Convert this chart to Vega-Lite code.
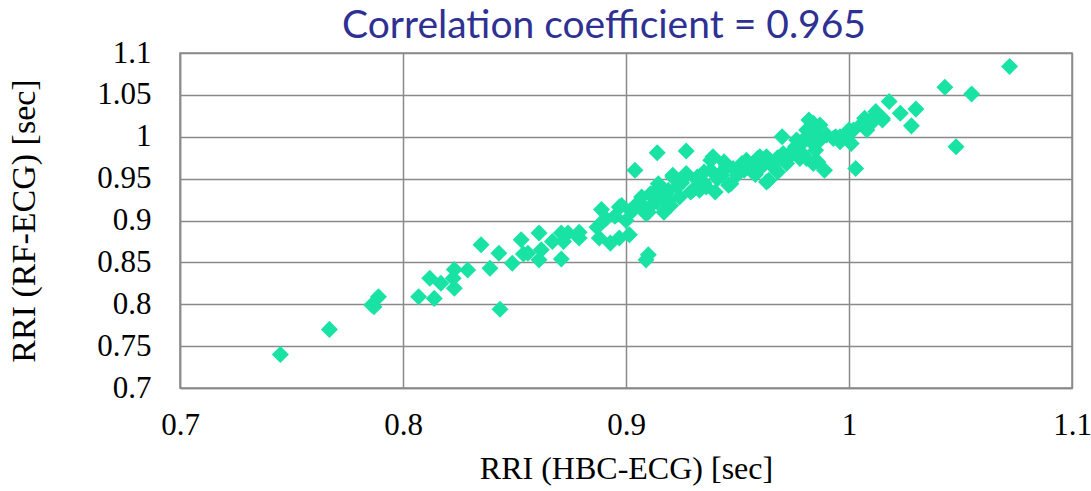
{
  "$schema": "https://vega.github.io/schema/vega-lite/v6.json",
  "width": 892,
  "height": 335,
  "autosize": {"type": "none"},
  "padding": {"left": 180, "top": 53, "right": 19, "bottom": 103},
  "background": "white",
  "title": {
    "text": "Correlation coefficient = 0.965",
    "font": "Lato",
    "fontSize": 39,
    "fontWeight": "normal",
    "color": "#2E3192",
    "anchor": "middle",
    "dx": -22,
    "dy": 13,
    "offset": 4
  },
  "config": {
    "view": {"stroke": "#8a8a8a", "strokeWidth": 1.5}
  },
  "data": {
    "values": [
      {"hbc": 0.745, "rf": 0.740}, {"hbc": 0.767, "rf": 0.770}, {"hbc": 0.787, "rf": 0.797},
      {"hbc": 0.789, "rf": 0.809}, {"hbc": 0.786, "rf": 0.799}, {"hbc": 0.807, "rf": 0.809},
      {"hbc": 0.812, "rf": 0.831}, {"hbc": 0.814, "rf": 0.807}, {"hbc": 0.817, "rf": 0.825},
      {"hbc": 0.8225, "rf": 0.831}, {"hbc": 0.823, "rf": 0.8415}, {"hbc": 0.823, "rf": 0.819},
      {"hbc": 0.829, "rf": 0.841}, {"hbc": 0.835, "rf": 0.871}, {"hbc": 0.839, "rf": 0.843},
      {"hbc": 0.843, "rf": 0.861}, {"hbc": 0.8435, "rf": 0.794}, {"hbc": 0.849, "rf": 0.849},
      {"hbc": 0.853, "rf": 0.877}, {"hbc": 0.854, "rf": 0.860}, {"hbc": 0.856, "rf": 0.861},
      {"hbc": 0.861, "rf": 0.885}, {"hbc": 0.862, "rf": 0.865}, {"hbc": 0.861, "rf": 0.853},
      {"hbc": 0.867, "rf": 0.875}, {"hbc": 0.871, "rf": 0.854}, {"hbc": 0.871, "rf": 0.885},
      {"hbc": 0.874, "rf": 0.885}, {"hbc": 0.872, "rf": 0.875}, {"hbc": 0.879, "rf": 0.886},
      {"hbc": 0.879, "rf": 0.879}, {"hbc": 0.889, "rf": 0.913}, {"hbc": 0.887, "rf": 0.892},
      {"hbc": 0.891, "rf": 0.902}, {"hbc": 0.888, "rf": 0.879}, {"hbc": 0.893, "rf": 0.873},
      {"hbc": 0.897, "rf": 0.879}, {"hbc": 0.9015, "rf": 0.883}, {"hbc": 0.904, "rf": 0.960},
      {"hbc": 0.898, "rf": 0.918}, {"hbc": 0.902, "rf": 0.912}, {"hbc": 0.900, "rf": 0.900},
      {"hbc": 0.907, "rf": 0.928}, {"hbc": 0.910, "rf": 0.859}, {"hbc": 0.909, "rf": 0.853},
      {"hbc": 0.914, "rf": 0.981}, {"hbc": 0.927, "rf": 0.983}, {"hbc": 0.9145, "rf": 0.944},
      {"hbc": 0.911, "rf": 0.932}, {"hbc": 0.914, "rf": 0.922}, {"hbc": 0.910, "rf": 0.910},
      {"hbc": 0.917, "rf": 0.910}, {"hbc": 0.919, "rf": 0.936}, {"hbc": 0.921, "rf": 0.954},
      {"hbc": 0.923, "rf": 0.940}, {"hbc": 0.927, "rf": 0.956}, {"hbc": 0.924, "rf": 0.928},
      {"hbc": 0.929, "rf": 0.934}, {"hbc": 0.932, "rf": 0.952}, {"hbc": 0.933, "rf": 0.936},
      {"hbc": 0.940, "rf": 0.934}, {"hbc": 0.938, "rf": 0.972}, {"hbc": 0.944, "rf": 0.970},
      {"hbc": 0.943, "rf": 0.958}, {"hbc": 0.917, "rf": 0.924}, {"hbc": 0.920, "rf": 0.918},
      {"hbc": 0.908, "rf": 0.916}, {"hbc": 0.939, "rf": 0.976}, {"hbc": 0.938, "rf": 0.960},
      {"hbc": 0.943, "rf": 0.954}, {"hbc": 0.948, "rf": 0.962}, {"hbc": 0.947, "rf": 0.944},
      {"hbc": 0.954, "rf": 0.972}, {"hbc": 0.953, "rf": 0.960}, {"hbc": 0.959, "rf": 0.974},
      {"hbc": 0.960, "rf": 0.962}, {"hbc": 0.964, "rf": 0.948}, {"hbc": 0.965, "rf": 0.970},
      {"hbc": 0.970, "rf": 1.000}, {"hbc": 0.9705, "rf": 0.980}, {"hbc": 0.972, "rf": 0.968},
      {"hbc": 0.976, "rf": 0.988}, {"hbc": 0.978, "rf": 0.974}, {"hbc": 0.982, "rf": 1.020},
      {"hbc": 0.984, "rf": 1.008}, {"hbc": 0.9795, "rf": 0.996}, {"hbc": 0.985, "rf": 0.984},
      {"hbc": 0.981, "rf": 0.974}, {"hbc": 0.989, "rf": 0.960}, {"hbc": 0.986, "rf": 0.970},
      {"hbc": 0.994, "rf": 1.000}, {"hbc": 0.999, "rf": 1.004}, {"hbc": 0.996, "rf": 0.994},
      {"hbc": 1.000, "rf": 1.008}, {"hbc": 1.001, "rf": 0.992}, {"hbc": 1.003, "rf": 0.962},
      {"hbc": 1.007, "rf": 1.022}, {"hbc": 1.008, "rf": 1.008}, {"hbc": 1.012, "rf": 1.030},
      {"hbc": 1.010, "rf": 1.016}, {"hbc": 1.015, "rf": 1.020}, {"hbc": 1.018, "rf": 1.042},
      {"hbc": 1.023, "rf": 1.028}, {"hbc": 1.028, "rf": 1.013}, {"hbc": 1.030, "rf": 1.033},
      {"hbc": 1.043, "rf": 1.059}, {"hbc": 1.055, "rf": 1.051}, {"hbc": 1.048, "rf": 0.988},
      {"hbc": 1.072, "rf": 1.084}, {"hbc": 0.946, "rf": 0.942}, {"hbc": 0.963, "rf": 0.946},
      {"hbc": 0.960, "rf": 0.976}, {"hbc": 0.956, "rf": 0.960}, {"hbc": 0.966, "rf": 0.964},
      {"hbc": 0.971, "rf": 0.974}, {"hbc": 0.975, "rf": 0.984}, {"hbc": 0.985, "rf": 1.004},
      {"hbc": 0.987, "rf": 1.014}, {"hbc": 0.993, "rf": 0.998}, {"hbc": 1.012, "rf": 1.026},
      {"hbc": 0.915, "rf": 0.940}, {"hbc": 0.921, "rf": 0.952}, {"hbc": 0.927, "rf": 0.954},
      {"hbc": 0.932, "rf": 0.948}, {"hbc": 0.918, "rf": 0.932}, {"hbc": 0.930, "rf": 0.936},
      {"hbc": 0.936, "rf": 0.940}, {"hbc": 0.903, "rf": 0.912}, {"hbc": 0.909, "rf": 0.908},
      {"hbc": 0.897, "rf": 0.916}, {"hbc": 0.890, "rf": 0.900}, {"hbc": 0.912, "rf": 0.920},
      {"hbc": 0.919, "rf": 0.924}, {"hbc": 0.963, "rf": 0.976}, {"hbc": 0.9765, "rf": 0.996},
      {"hbc": 0.981, "rf": 1.008}, {"hbc": 0.984, "rf": 1.016}, {"hbc": 0.987, "rf": 0.996},
      {"hbc": 0.984, "rf": 0.968}, {"hbc": 0.996, "rf": 1.000}, {"hbc": 1.002, "rf": 1.008},
      {"hbc": 1.006, "rf": 1.016}, {"hbc": 1.015, "rf": 1.022}, {"hbc": 0.935, "rf": 0.945},
      {"hbc": 0.941, "rf": 0.950}, {"hbc": 0.950, "rf": 0.955}, {"hbc": 0.957, "rf": 0.966},
      {"hbc": 0.962, "rf": 0.968}, {"hbc": 0.968, "rf": 0.958}, {"hbc": 0.974, "rf": 0.978},
      {"hbc": 0.978, "rf": 0.990}, {"hbc": 0.979, "rf": 0.980}, {"hbc": 0.968, "rf": 0.975},
      {"hbc": 0.925, "rf": 0.945}, {"hbc": 0.916, "rf": 0.930}, {"hbc": 0.905, "rf": 0.920},
      {"hbc": 0.895, "rf": 0.905}, {"hbc": 0.913, "rf": 0.926}, {"hbc": 0.935, "rf": 0.958},
      {"hbc": 0.945, "rf": 0.965}, {"hbc": 0.952, "rf": 0.968}, {"hbc": 0.958, "rf": 0.955},
      {"hbc": 0.990, "rf": 1.002}, {"hbc": 0.983, "rf": 0.994}
    ]
  },
  "mark": {"type": "point", "shape": "diamond", "filled": true, "size": 290, "color": "#19E3A4", "opacity": 1},
  "encoding": {
    "x": {
      "field": "hbc", "type": "quantitative",
      "scale": {"domain": [0.7, 1.1], "nice": false, "zero": false},
      "axis": {
        "values": [0.7, 0.8, 0.9, 1.0, 1.1], "format": "~g",
        "ticks": false, "grid": true,
        "gridColor": "#8a8a8a", "gridWidth": 1.5, "domainColor": "#8a8a8a", "domainWidth": 1.5,
        "labelFont": "Liberation Serif", "labelFontSize": 31, "labelColor": "black",
        "labelPadding": 22, "labelFlush": false,
        "title": "RRI (HBC-ECG) [sec]", "titleFont": "Liberation Serif", "titleFontWeight": "normal",
        "titleColor": "black", "titleFontSize": 32, "titlePadding": 13
      }
    },
    "y": {
      "field": "rf", "type": "quantitative",
      "scale": {"domain": [0.7, 1.1], "nice": false, "zero": false},
      "axis": {
        "values": [0.7, 0.75, 0.8, 0.85, 0.9, 0.95, 1.0, 1.05, 1.1], "format": "~g",
        "ticks": false, "grid": true,
        "gridColor": "#8a8a8a", "gridWidth": 1.5, "domainColor": "#8a8a8a", "domainWidth": 1.5,
        "labelFont": "Liberation Serif", "labelFontSize": 31, "labelColor": "black",
        "labelPadding": 29, "labelFlush": false,
        "title": "RRI (RF-ECG) [sec]", "titleFont": "Liberation Serif", "titleFontWeight": "normal",
        "titleColor": "black", "titleFontSize": 34, "titlePadding": 55
      }
    }
  }
}
